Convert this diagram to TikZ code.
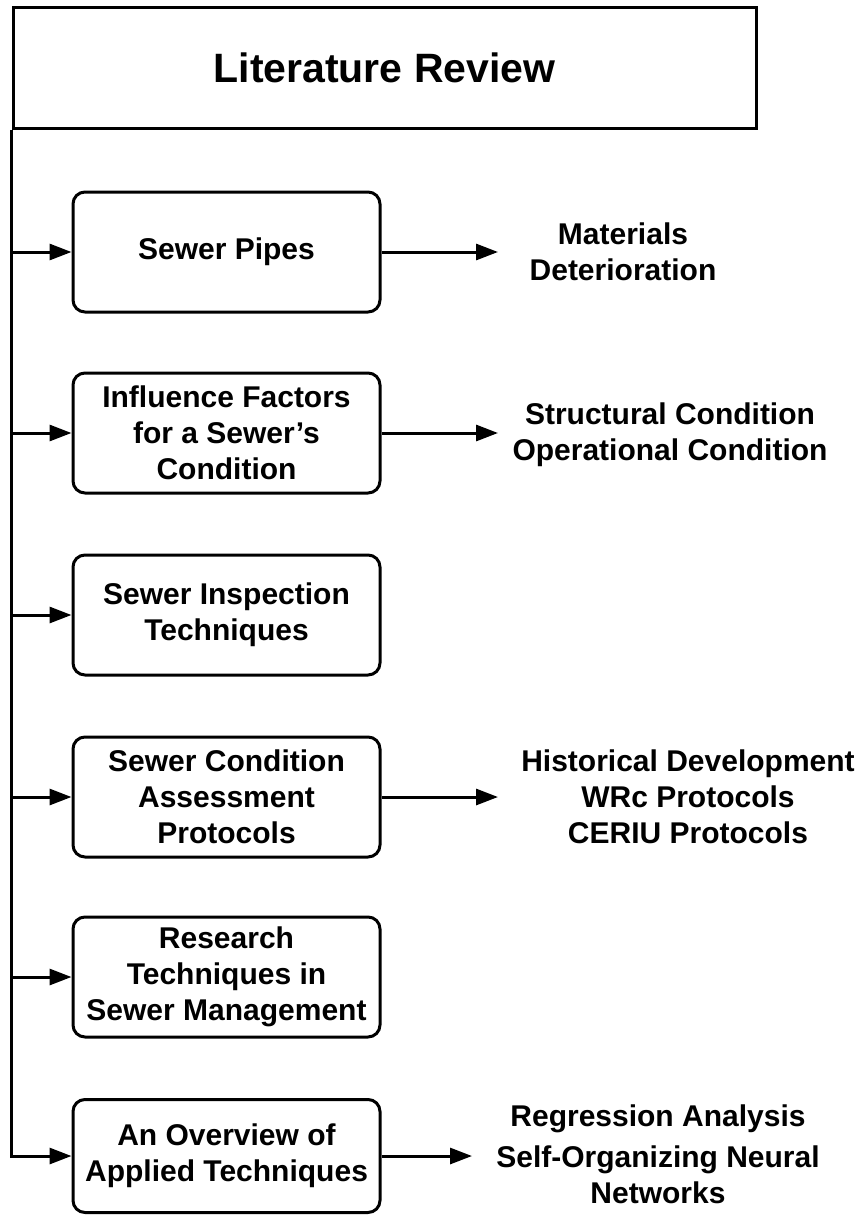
\documentclass[tikz,border=0pt]{standalone}
\usepackage{fontspec}
\setmainfont{Liberation Sans}
\usetikzlibrary{arrows.meta}
\begin{document}
\begin{tikzpicture}[x=1pt,y=-1pt, line width=3pt,
  box/.style={draw, rounded corners=12pt, minimum width=307pt, minimum height=120pt, align=center, inner sep=0pt, font=\bfseries\fontsize{30}{36}\selectfont},
  titlebox/.style={draw, minimum width=743pt, minimum height=120pt, inner sep=0pt, font=\bfseries\fontsize{41}{49}\selectfont},
  side/.style={align=center, inner sep=0pt, font=\bfseries\fontsize{30}{36}\selectfont},
  arr/.style={-{Triangle[length=22pt,width=16pt]}}
]
\useasboundingbox (0,0) rectangle (859,1215);
\node[titlebox] (title) at (384.5,68) {Literature Review};
\node[box] (b1) at (226.5,252) {Sewer Pipes};
\node[box] (b2) at (226.5,433) {Influence Factors\\for a Sewer’s\\Condition};
\node[box] (b3) at (226.5,615) {Sewer Inspection\\Techniques};
\node[box] (b4) at (226.5,797) {Sewer Condition\\Assessment\\Protocols};
\node[box] (b5) at (226.5,977) {Research\\Techniques in\\Sewer Management};
\node[box, minimum height=113pt] (b6) at (226.5,1156) {An Overview of\\Applied Techniques};
\node[side] (r1) at (623,252) {Materials\\Deterioration};
\node[side] (r2) at (670,435) {Structural Condition\\Operational Condition};
\node[side] (r4) at (688,797) {Historical Development\\WRc Protocols\\CERIU Protocols};
\node[side] (r6) at (658,1154) {Regression Analysis\\[5pt]Self-Organizing Neural\\Networks};
\coordinate (tipx) at (498,0);
\coordinate (tipy) at (472,0);
\draw[arr] (title.south west) |- (b6.west);
\foreach \b in {b1,b2,b3,b4,b5}{
  \draw[arr] (title.south west |- \b.west) -- (\b.west);
}
\foreach \b in {b1,b2,b4}{
  \draw[arr] (\b.east) -- (\b.east -| tipx);
}
\draw[arr] (b6.east) -- (b6.east -| tipy);
\end{tikzpicture}
\end{document}
